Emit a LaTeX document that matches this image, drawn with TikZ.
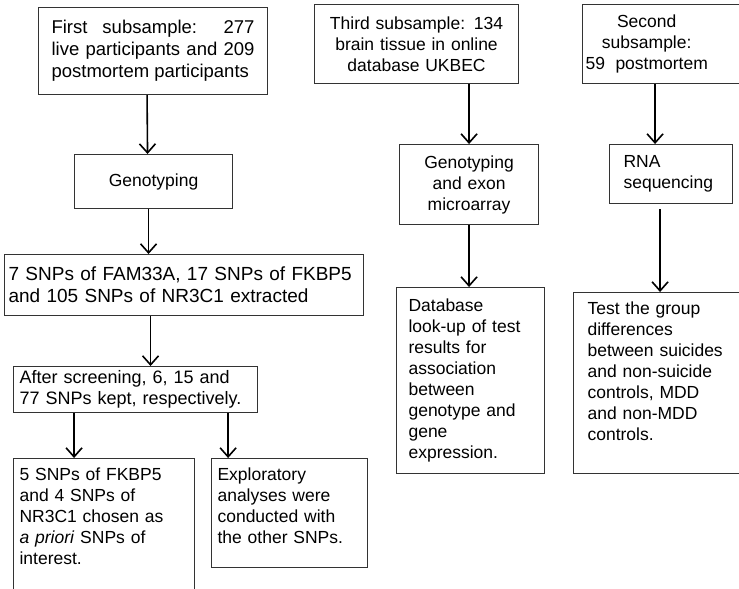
\documentclass[tikz,border=0pt]{standalone}
\usepackage{fontspec}
\setmainfont{Liberation Sans}
\usetikzlibrary{arrows.meta}

\begin{document}
\begin{tikzpicture}[x=1pt,y=-1pt,
  box/.style={draw=black!80, line width=1.1pt, anchor=north west, inner xsep=6pt, inner ysep=6pt,
    font=\fontsize{17.5}{21}\selectfont, align=left},
  flow/.style={draw=black, line width=1.6pt, -{Straight Barb[length=9pt,width=16pt,line width=1.6pt]}}]
\useasboundingbox (0,0) rectangle (739,589);
\clip (0,0) rectangle (739,589);

\node[box, align=justify, inner xsep=13pt, text width=203pt, minimum height=87pt,
  font=\fontsize{18.5}{22}\selectfont] (first) at (38,7)
  {First subsample: 277\linebreak live participants and 209\linebreak postmortem participants};
\node[box, align=center, text width=146pt, minimum height=54pt] (geno) at (74,154) {Genotyping};
\node[box, inner xsep=4pt, text width=351pt, minimum height=61pt,
  font=\fontsize{19}{22}\selectfont] (snps) at (4,254)
  {\mbox{7 SNPs of FAM33A, 17 SNPs of FKBP5}\\ and 105 SNPs of NR3C1 extracted};
\node[box, inner ysep=4pt, text width=232pt, minimum height=46pt,
  font=\fontsize{18}{21}\selectfont] (screen) at (13,366)
  {After screening, 6, 15 and\\ 77 SNPs kept, respectively.};
\node[box, inner ysep=9pt, text width=169pt, text depth=111pt] (apriori) at (13,458)
  {5 SNPs of FKBP5\\ and 4 SNPs of\\ NR3C1 chosen as\\ \textit{a priori} SNPs of\\ interest.};
\node[box, inner ysep=9pt, text width=144pt, text depth=78pt] (explore) at (211,458)
  {Exploratory\\ analyses were\\ conducted with\\ the other SNPs.};

\node[box, align=center, text width=192pt, minimum height=79pt] (third) at (314,4)
  {Third subsample: 134\\ brain tissue in online\\ database UKBEC};
\node[box, align=center, text width=127pt, minimum height=80pt] (exon) at (399,144)
  {Genotyping\\ and exon\\ microarray};
\node[box, inner xsep=12pt, text width=124pt, minimum height=186pt] (db) at (396,287)
  {Database\\ look-up of test\\ results for\\ association\\ between\\ genotype and\\ gene\\ expression.};

\node[box, inner xsep=3pt, text width=174pt, minimum height=79pt] (second) at (582,4)
  {\begin{tabular}{@{}c@{}}Second\\ subsample:\\ 59\hspace{0.6em}postmortem\end{tabular}};
\node[box, inner xsep=14pt, text width=95pt, minimum height=59pt] (rna) at (609,144)
  {RNA\\ sequencing};
\node[box, inner xsep=14pt, inner ysep=9pt, text width=162pt, text depth=150pt] (test) at (573,292)
  {Test the group\\ differences\\ between suicides\\ and non-suicide\\ controls, MDD\\ and non-MDD\\ controls.};

\draw[flow] ([xshift=-6pt]first.south) -- ([xshift=-6pt]geno.north);
\draw[flow] ([xshift=-5pt]geno.south) -- ([xshift=-5pt]geno.south |- snps.north);
\draw[flow] ([xshift=15pt]screen.north |- snps.south) -- ([xshift=15pt]screen.north);
\draw[flow] ([xshift=-30pt]apriori.north |- screen.south) -- ([xshift=-30pt]apriori.north);
\draw[flow] ([xshift=-30pt]screen.south east) -- ([xshift=-30pt]screen.south east |- explore.north);

\draw[flow] (exon.north |- third.south) -- (exon.north);
\draw[flow] (exon.south) -- (exon.south |- db.north);

\draw[flow] ([xshift=-16pt]rna.north |- second.south) -- ([xshift=-16pt]rna.north);
\draw[flow, shorten <=5pt] ([xshift=-11pt]rna.south) -- ([xshift=-11pt]rna.south |- test.north);
\end{tikzpicture}
\end{document}
